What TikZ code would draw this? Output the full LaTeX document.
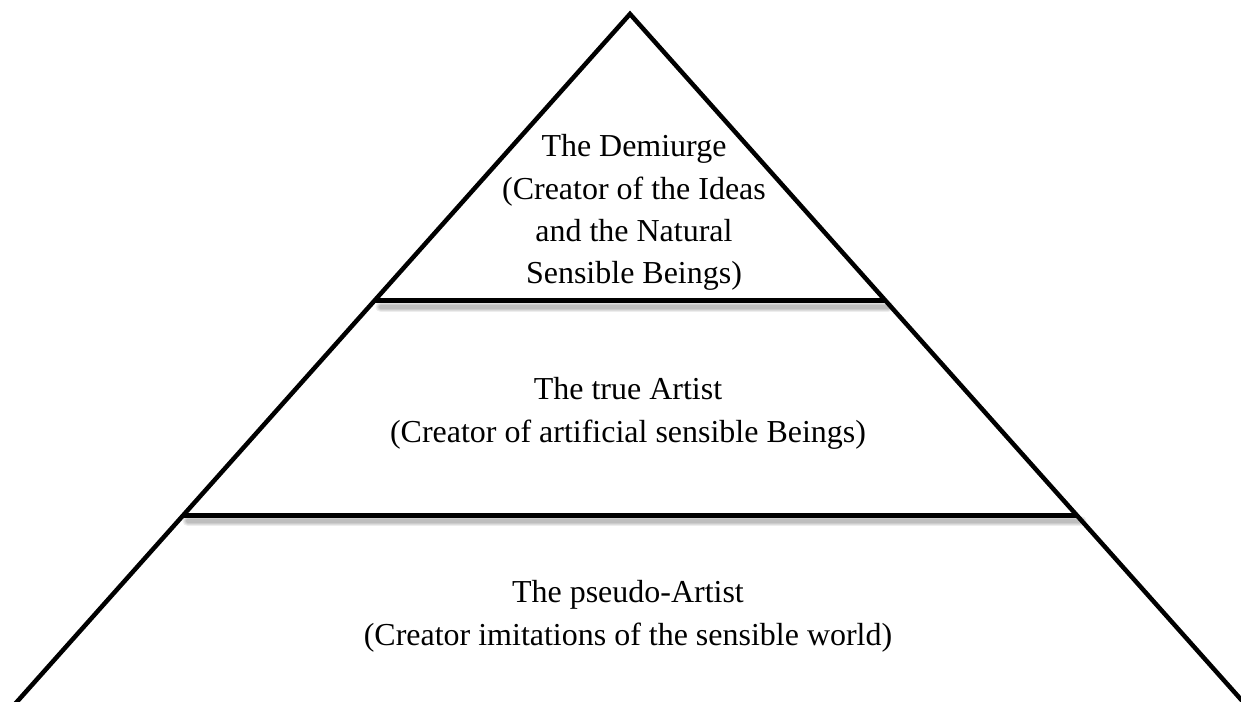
\documentclass[tikz,border=0pt]{standalone}
\usepackage{fontspec}
\setmainfont{Liberation Serif}
\begin{document}
\begin{tikzpicture}[x=0.02cm,y=-0.02cm,
  edge/.style={line width=0.09cm,line join=miter},
  tier/.style={line width=0.1cm},
  tiershadow/.style={line width=#1,black,opacity=0.07,line cap=round},
  label/.style={align=center,inner sep=0pt,anchor=base,
    font=\fontsize{18.2pt}{24.1pt}\selectfont}]
  \useasboundingbox (0,0) rectangle (1241,702);
  \clip (0,0) rectangle (1241,702);

  % outline of the pyramid
  \coordinate (apex) at (630,14);
  \coordinate (bl) at (15,704);
  \coordinate (br) at (1245,704);
  \draw[edge] (bl) -- (apex) -- (br);

  % tier boundaries with a soft shadow underneath
  \coordinate (t1l) at (375,301);
  \coordinate (t1r) at (885,301);
  \coordinate (t2l) at (182,515);
  \coordinate (t2r) at (1078,515);
  \foreach \w in {0.22cm,0.17cm,0.12cm,0.08cm}{
    \draw[tiershadow=\w] ([shift={(6,6)}]t1l) -- ([shift={(3,6)}]t1r);
    \draw[tiershadow=\w] ([shift={(6,6)}]t2l) -- ([shift={(3,6)}]t2r);
  }
  \draw[tier] (t1l) -- (t1r);
  \draw[tier] (t2l) -- (t2r);

  % tier captions (anchored at the baseline of the last line)
  \node[label] (demiurge) at (634,284)
    {The Demiurge\\(Creator of the Ideas\\and the Natural\\Sensible Beings)};
  \node[label] (artist) at (628,442)
    {The true Artist\\(Creator of artificial sensible Beings)};
  \node[label] (pseudo) at (628,645)
    {The pseudo-Artist\\(Creator imitations of the sensible world)};
\end{tikzpicture}
\end{document}
